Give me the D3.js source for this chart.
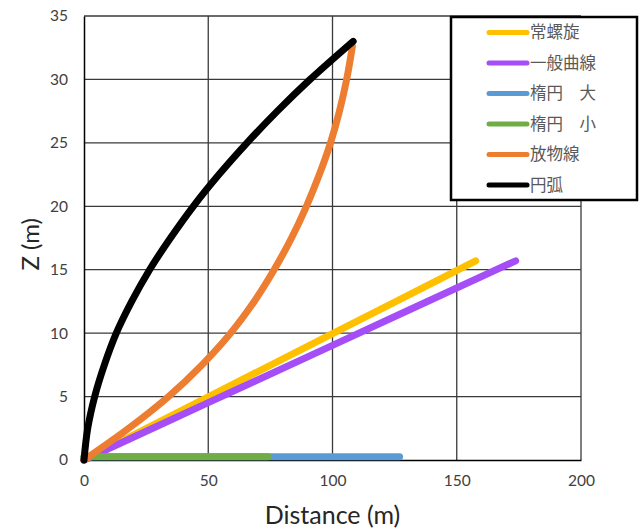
<!DOCTYPE html>
<html>
<head>
<meta charset="utf-8">
<script src="https://cdn.jsdelivr.net/npm/d3@7"></script>
<style>
  body { margin: 0; background: #fff; }
  text { font-family: Lato, "Noto Sans", sans-serif; }
</style>
</head>
<body>
<div id="chart"></div>
<script>
// series: [distance, z]
const helix = [[0, 0], [50, 4.98], [100, 9.96], [157.6, 15.7]]
const generalCurve = [[0, 0], [50, 4.52], [100, 9.04], [173.7, 15.7]]
const ellipseLarge = [[0, 0.25], [127, 0.25]]
const ellipseSmall = [[0, 0.25], [74, 0.25]]
const parabola = [[0, 0], [18, 2.5], [34, 5], [47.5, 7.5], [59, 10], [68.5, 12.5],
  [76.5, 15], [83.5, 17.5], [89.5, 20], [94.7, 22.5], [99.2, 25], [102.8, 27.5],
  [105.7, 30], [108, 32.6]]
const arc = [[0, 0], [1.5, 2.5], [4.3, 5], [8.2, 7.5], [13, 10], [19.2, 12.5],
  [26.4, 15], [34.8, 17.5], [44, 20], [54.3, 22.5], [65.6, 25], [77.8, 27.5],
  [91, 30], [108.3, 33]]

const seriesNames = ["常螺旋", "一般曲線", "楕円　大", "楕円　小", "放物線", "円弧"]
const seriesData = [helix, generalCurve, ellipseLarge, ellipseSmall, parabola, arc]
const seriesColors = ["#FFC000", "#A54DF7", "#5B9BD5", "#70AD47", "#ED7D31", "#000000"]

const xTicks = [0, 50, 100, 150, 200]
const yTicks = [0, 5, 10, 15, 20, 25, 30, 35]

const width = 644
const height = 529
const margin = {top: 16, right: 63, bottom: 69, left: 84}

const svg = d3.select("#chart").append("svg")
  .attr("width", width)
  .attr("height", height)

const x = d3.scaleLinear().domain([0, 200]).range([margin.left, width - margin.right])
const y = d3.scaleLinear().domain([0, 35]).range([height - margin.bottom, margin.top])

// gridlines
const grid = svg.append("g").attr("class", "grid")
grid.selectAll(".vgrid")
  .data(xTicks.slice(1))
  .enter().append("line")
    .attr("x1", d => x(d)).attr("x2", d => x(d))
    .attr("y1", y(0)).attr("y2", y(35))
    .attr("stroke", "#3a3a3a")
    .attr("stroke-width", 1.3)
grid.selectAll(".hgrid")
  .data(yTicks.slice(1))
  .enter().append("line")
    .attr("x1", x(0)).attr("x2", x(200))
    .attr("y1", d => y(d)).attr("y2", d => y(d))
    .attr("stroke", "#3a3a3a")
    .attr("stroke-width", 1.3)

// axes
const xAxis = d3.axisBottom(x).tickValues(xTicks).tickSize(0).tickPadding(15)
const yAxis = d3.axisLeft(y).tickValues(yTicks).tickSize(0).tickPadding(16)

const gx = svg.append("g")
  .attr("transform", `translate(0,${y(0)})`)
  .call(xAxis)
const gy = svg.append("g")
  .attr("transform", `translate(${x(0)},0)`)
  .call(yAxis)

;[gx, gy].forEach(g => {
  g.select(".domain").attr("stroke", "#000").attr("stroke-width", 1.5)
  g.selectAll("text")
    .attr("fill", "#404040")
    .style("font-size", "15.5px")
})

// axis titles
svg.append("text")
  .attr("x", x(100))
  .attr("y", 524)
  .attr("text-anchor", "middle")
  .attr("fill", "#262626")
  .style("font-size", "25px")
  .text("Distance (m)")

svg.append("text")
  .attr("transform", `translate(39,${y(17)}) rotate(-90)`)
  .attr("text-anchor", "middle")
  .attr("fill", "#262626")
  .style("font-size", "24px")
  .text("Z (m)")

// series lines, drawn in legend order
const line = d3.line()
  .x(d => x(d[0]))
  .y(d => y(d[1]))
  .curve(d3.curveCatmullRom.alpha(0.5))

svg.append("g").selectAll("path")
  .data(seriesData)
  .enter().append("path")
    .attr("d", line)
    .attr("fill", "none")
    .attr("stroke", (d, i) => seriesColors[i])
    .attr("stroke-width", 7)
    .attr("stroke-linecap", "round")
    .attr("stroke-linejoin", "round")

// legend
const legend = svg.append("g").attr("class", "legend")
legend.append("rect")
  .attr("x", 451)
  .attr("y", 17)
  .attr("width", 186)
  .attr("height", 183)
  .attr("fill", "#fff")
  .attr("stroke", "#000")
  .attr("stroke-width", 2.5)

const items = legend.selectAll(".legend-item")
  .data(seriesNames)
  .enter().append("g")
    .attr("class", "legend-item")
    .attr("transform", (d, i) => `translate(0,${32.5 + i * 30.5})`)

items.append("line")
  .attr("x1", 489).attr("x2", 527)
  .attr("y1", 0).attr("y2", 0)
  .attr("stroke", (d, i) => seriesColors[i])
  .attr("stroke-width", 5)
  .attr("stroke-linecap", "round")

items.append("text")
  .attr("x", 530)
  .attr("y", 0)
  .attr("dy", "0.35em")
  .attr("fill", "#595959")
  .style("font-size", "16.5px")
  .style("font-family", "'Noto Sans CJK JP', sans-serif")
  .text(d => d)
</script>
</body>
</html>
